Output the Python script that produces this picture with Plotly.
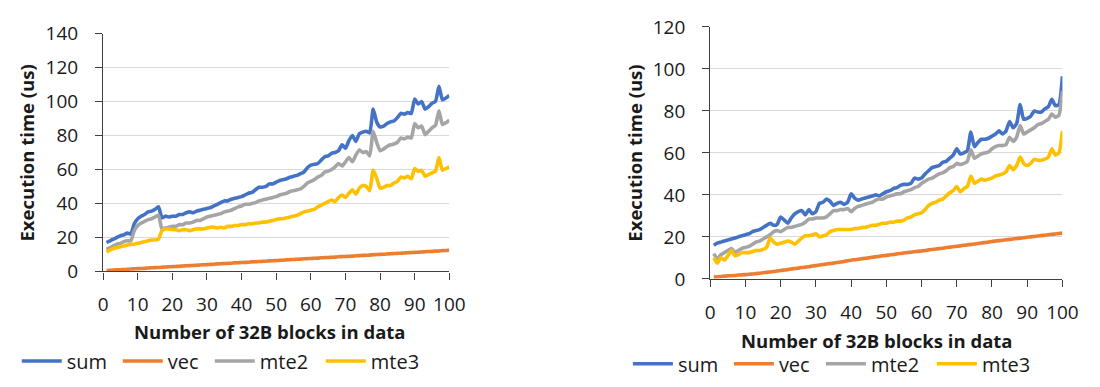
import plotly.graph_objects as go

x_blocks = list(range(1, 101))

# ---------------- left chart data ----------------
left_sum = [17, 18, 19, 20, 21, 21.5, 22.5, 22, 28, 31,
            32.5, 33.5, 35, 35.5, 36.5, 38, 31.5, 32.5, 32, 32.5,
            32.5, 33.5, 33.5, 34.5, 35, 34.5, 35.5, 36, 36.5, 37,
            37.5, 38.5, 39.5, 40.5, 41.5, 41.5, 42.5, 43, 43.5, 44,
            45, 46, 46.5, 48, 49.5, 49.5, 50, 51.5, 51.5, 52.5,
            53.5, 54, 54.5, 55.5, 56, 56.5, 57.5, 58.5, 61, 62.5,
            63, 63.5, 65.5, 67.5, 68, 69.5, 70, 71, 74.5, 72.5,
            77, 80, 76.5, 81, 82, 82.5, 81.5, 95.5, 88, 85,
            85.5, 87, 88, 88.5, 90.5, 93, 92.5, 93.5, 93, 101.5,
            98.5, 100, 95.5, 97, 99, 100, 109, 101, 102, 103.5]
left_vec = [0.5, 0.6, 0.8, 0.9, 1.0, 1.1, 1.2, 1.4, 1.5, 1.6,
            1.7, 1.8, 2.0, 2.1, 2.2, 2.3, 2.4, 2.6, 2.7, 2.8,
            2.9, 3.0, 3.2, 3.3, 3.4, 3.5, 3.6, 3.8, 3.9, 4.0,
            4.1, 4.2, 4.4, 4.5, 4.6, 4.7, 4.8, 5.0, 5.1, 5.2,
            5.3, 5.4, 5.6, 5.7, 5.8, 5.9, 6.0, 6.2, 6.3, 6.4,
            6.5, 6.6, 6.8, 6.9, 7.0, 7.1, 7.2, 7.4, 7.5, 7.6,
            7.7, 7.8, 8.0, 8.1, 8.2, 8.3, 8.4, 8.6, 8.7, 8.8,
            8.9, 9.0, 9.2, 9.3, 9.4, 9.5, 9.6, 9.8, 9.9, 10.0,
            10.1, 10.2, 10.4, 10.5, 10.6, 10.7, 10.8, 11.0, 11.1, 11.2,
            11.3, 11.4, 11.6, 11.7, 11.8, 11.9, 12.0, 12.2, 12.3, 12.4]
left_mte2 = [13, 14, 15, 16, 16.5, 17.5, 18, 18, 24, 27,
             28.5, 29.5, 30.5, 31, 32, 33, 25, 25.5, 26, 26.5,
             26.5, 27.5, 27.5, 28.5, 28.5, 29, 30, 30, 31, 32,
             32.5, 33, 33.5, 34, 35, 35.5, 36, 37, 38, 38.5,
             39.5, 39.5, 40, 40.5, 41.5, 42, 42.5, 43, 43.5, 44,
             45, 45.5, 46, 47, 47.5, 48, 48.5, 50, 52, 53,
             54, 55.5, 56.5, 58.5, 59, 60, 61.5, 63.5, 62, 64.5,
             67, 64.5, 68.5, 71.5, 70, 70.5, 68, 82.5, 76, 71,
             72, 73.5, 74.5, 75, 76, 78.5, 78, 79, 78.5, 87,
             84.5, 85.5, 80.5, 82.5, 84.5, 86, 94.5, 86.5, 87.5, 89]
left_mte3 = [11.5, 12.5, 13.5, 14, 14.5, 15, 15.5, 16, 16, 16.5,
             17, 17.5, 18, 18.5, 18.5, 19, 24, 25, 25, 24.5,
             24.5, 24, 24.5, 24.5, 24, 24.5, 25, 25, 25, 25.5,
             26, 26, 25.5, 26, 25.5, 26.5, 26.5, 27, 27, 27.5,
             27.5, 28, 28, 28.5, 28.5, 29, 29, 29.5, 30, 30.5,
             31, 31, 31.5, 32, 32.5, 33, 34, 35, 35.5, 36,
             36.5, 38, 39, 40, 41, 42, 41, 43.5, 45, 43.5,
             46, 48, 45.5, 49, 50.5, 50, 47.5, 59.5, 55, 49,
             49.5, 50.5, 50.5, 52, 53, 55.5, 55, 56, 54.5, 60.5,
             59, 59.5, 56, 57, 58, 59, 67, 59.5, 60.5, 61.5]

# ---------------- right chart data ----------------
right_sum = [16, 17, 17.5, 18, 18.5, 19, 19.5, 20, 20.5, 21,
             21.5, 22.5, 23, 23.5, 24.5, 25.5, 26.5, 25.5, 26, 29.5,
             28, 26.5, 29, 31, 32, 32.5, 30.5, 33, 31, 32,
             36, 36.5, 38, 37, 35, 36, 36.5, 35.5, 36.5, 40.5,
             38.5, 37.5, 38, 38.5, 39, 39.5, 40, 39.5, 40.5, 41.5,
             42, 43, 43.5, 44.5, 45, 45, 45.5, 48, 47.5, 48,
             50, 51.5, 53, 53.5, 54, 55.5, 56, 57.5, 59, 62,
             59.5, 60, 61, 70, 63, 65, 66.5, 66.5, 67, 68,
             69, 70.5, 69, 70.5, 75, 72, 74, 83, 76, 76.5,
             77.5, 80, 79.5, 79.5, 81, 82, 85.5, 82.5, 83, 96.5]
right_vec = [0.9, 1.0, 1.1, 1.3, 1.4, 1.5, 1.6, 1.8, 1.9, 2.0,
             2.2, 2.3, 2.5, 2.7, 2.9, 3.1, 3.3, 3.5, 3.7, 4.0,
             4.2, 4.4, 4.7, 4.9, 5.1, 5.4, 5.6, 5.8, 6.1, 6.3,
             6.6, 6.8, 7.1, 7.3, 7.5, 7.8, 8.0, 8.3, 8.6, 8.9,
             9.1, 9.3, 9.6, 9.8, 10.0, 10.3, 10.5, 10.7, 11.0, 11.2,
             11.4, 11.6, 11.9, 12.1, 12.3, 12.5, 12.7, 12.9, 13.1, 13.3,
             13.5, 13.8, 14.0, 14.2, 14.4, 14.6, 14.9, 15.1, 15.3, 15.5,
             15.7, 16.0, 16.2, 16.4, 16.6, 16.8, 17.1, 17.3, 17.5, 17.8,
             18.0, 18.2, 18.4, 18.6, 18.8, 19.0, 19.2, 19.4, 19.6, 19.8,
             20.0, 20.2, 20.4, 20.6, 20.8, 21.0, 21.2, 21.4, 21.6, 21.8]
right_mte2 = [12, 9.5, 11.5, 12.5, 13.5, 14.5, 12.5, 13.5, 14.5, 15,
              15.5, 16.5, 17.5, 18, 19, 20, 21, 22.5, 23, 22.5,
              23.5, 24.5, 24.5, 25, 25.5, 26, 27, 28.5, 28.5, 29,
              29, 29, 29.5, 31, 32.5, 32.5, 33, 33, 33.5, 32,
              33.5, 34.5, 35, 35.5, 36, 36.5, 37.5, 38, 38, 39,
              39.5, 40, 40.5, 40.5, 41.5, 42, 42.5, 43.5, 44, 45.5,
              46.5, 47.5, 48, 49, 50, 50.5, 51.5, 53, 53.5, 55,
              54.5, 55, 56, 61.5, 57.5, 58.5, 59.5, 60, 60.5, 62,
              63, 63.5, 63.5, 64, 67.5, 65.5, 67.5, 73, 69, 70,
              71, 72, 73.5, 74, 75, 76, 78.5, 77, 78, 89.5]
right_mte3 = [10, 7.5, 10, 9, 11, 13.5, 11, 11.5, 12.5, 12.5,
              12.5, 13, 13.5, 13.5, 14, 15, 19.5, 17.5, 16.5, 17,
              17.5, 18, 17.5, 16.5, 18, 19.5, 20.5, 20.5, 21, 21.5,
              20, 20.5, 21, 22.5, 23, 23.5, 23.5, 23.5, 23.5, 23.5,
              24, 24, 24.5, 24.5, 25, 25.5, 25.5, 26, 26.5, 26.5,
              27, 27, 27.5, 27.5, 28, 29, 29.5, 30.5, 31, 31.5,
              33, 35, 36, 36.5, 37.5, 38, 39.5, 41, 42, 44,
              41.5, 43, 44, 49, 45.5, 46.5, 47.5, 47, 47.5, 48,
              49, 49.5, 50, 51, 54, 52, 54, 58, 55, 54,
              55, 57, 56.5, 56.5, 57, 58, 62, 59, 60, 70.5]

series_names = ["sum", "vec", "mte2", "mte3"]
series_colors = ["#4472C4", "#ED7D31", "#A5A5A5", "#FFC000"]
x_ticks = [0, 10, 20, 30, 40, 50, 60, 70, 80, 90, 100]
left_y_ticks = [0, 20, 40, 60, 80, 100, 120, 140]
right_y_ticks = [0, 20, 40, 60, 80, 100, 120]
x_title = "Number of 32B blocks in data"
y_title = "Execution time (us)"

FONT = "Open Sans"
TXT = "#1A1A1A"
W, H = 1100, 387
legend_entry_widths = [46, 37, 56, 46]

fig = go.Figure()
left_data = [left_sum, left_vec, left_mte2, left_mte3]
right_data = [right_sum, right_vec, right_mte2, right_mte3]
for name, col, ys, lw in zip(series_names, series_colors, left_data, legend_entry_widths):
    fig.add_trace(go.Scatter(x=x_blocks, y=ys, name=name, mode="lines",
                             line=dict(color=col, width=3.6, shape="spline", smoothing=0.5),
                             xaxis="x", yaxis="y", legend="legend", legendwidth=lw))
for name, col, ys, lw in zip(series_names, series_colors, right_data, legend_entry_widths):
    fig.add_trace(go.Scatter(x=x_blocks, y=ys, name=name, mode="lines",
                             line=dict(color=col, width=3.6, shape="spline", smoothing=0.5),
                             xaxis="x2", yaxis="y2", legend="legend2", legendwidth=lw))

def px_x(px):
    return px / W

def px_y(py):
    return (H - py) / H

axis_common = dict(showline=True, linecolor="#404040", linewidth=1.3,
                   ticks="outside", ticklen=7, tickcolor="#404040", tickwidth=1.3,
                   tickfont=dict(family=FONT, size=19, color=TXT),
                   zeroline=False, fixedrange=True)

fig.update_layout(
    width=W, height=H, autosize=False,
    margin=dict(l=0, r=0, t=0, b=0),
    paper_bgcolor="white", plot_bgcolor="white",
    font=dict(family=FONT, color=TXT),
    xaxis=dict(domain=[px_x(100), px_x(453)], range=[0, 100], anchor="y",
               tickvals=x_ticks, showgrid=False, ticklabelstandoff=9, **axis_common),
    yaxis=dict(domain=[px_y(277), px_y(22)], range=[0, 140], anchor="x",
               tickvals=left_y_ticks, showgrid=True, gridcolor="#D9D9D9", gridwidth=1,
               ticklabelstandoff=13, **axis_common),
    xaxis2=dict(domain=[px_x(719), px_x(1078)], range=[0, 100], anchor="y2",
                tickvals=x_ticks, showgrid=False, ticklabelstandoff=9, **axis_common),
    yaxis2=dict(domain=[px_y(285), px_y(15)], range=[0, 120], anchor="x2",
                tickvals=right_y_ticks, showgrid=True, gridcolor="#D9D9D9", gridwidth=1,
                ticklabelstandoff=13, **axis_common),
    legend=dict(orientation="h", x=px_x(12), y=px_y(373), xanchor="left", yanchor="middle",
                font=dict(family=FONT, size=20, color=TXT), bgcolor="rgba(0,0,0,0)",
                itemwidth=40, tracegroupgap=0),
    legend2=dict(orientation="h", x=px_x(635), y=px_y(376), xanchor="left", yanchor="middle",
                 font=dict(family=FONT, size=20, color=TXT), bgcolor="rgba(0,0,0,0)",
                 itemwidth=40, tracegroupgap=0),
    annotations=[
        dict(text=f"<b>{x_title}</b>", x=px_x(270), y=px_y(341), xref="paper", yref="paper",
             showarrow=False, xanchor="center", yanchor="middle",
             font=dict(family=FONT, size=18.5, color=TXT)),
        dict(text=f"<b>{y_title}</b>", x=px_x(22), y=px_y(150), xref="paper", yref="paper",
             showarrow=False, xanchor="center", yanchor="middle", textangle=-90,
             font=dict(family=FONT, size=18.5, color=TXT)),
        dict(text=f"<b>{x_title}</b>", x=px_x(889), y=px_y(351), xref="paper", yref="paper",
             showarrow=False, xanchor="center", yanchor="middle",
             font=dict(family=FONT, size=18.5, color=TXT)),
        dict(text=f"<b>{y_title}</b>", x=px_x(642), y=px_y(150), xref="paper", yref="paper",
             showarrow=False, xanchor="center", yanchor="middle", textangle=-90,
             font=dict(family=FONT, size=18.5, color=TXT)),
    ],
)

fig.write_html("out.html", config={"displayModeBar": False})
